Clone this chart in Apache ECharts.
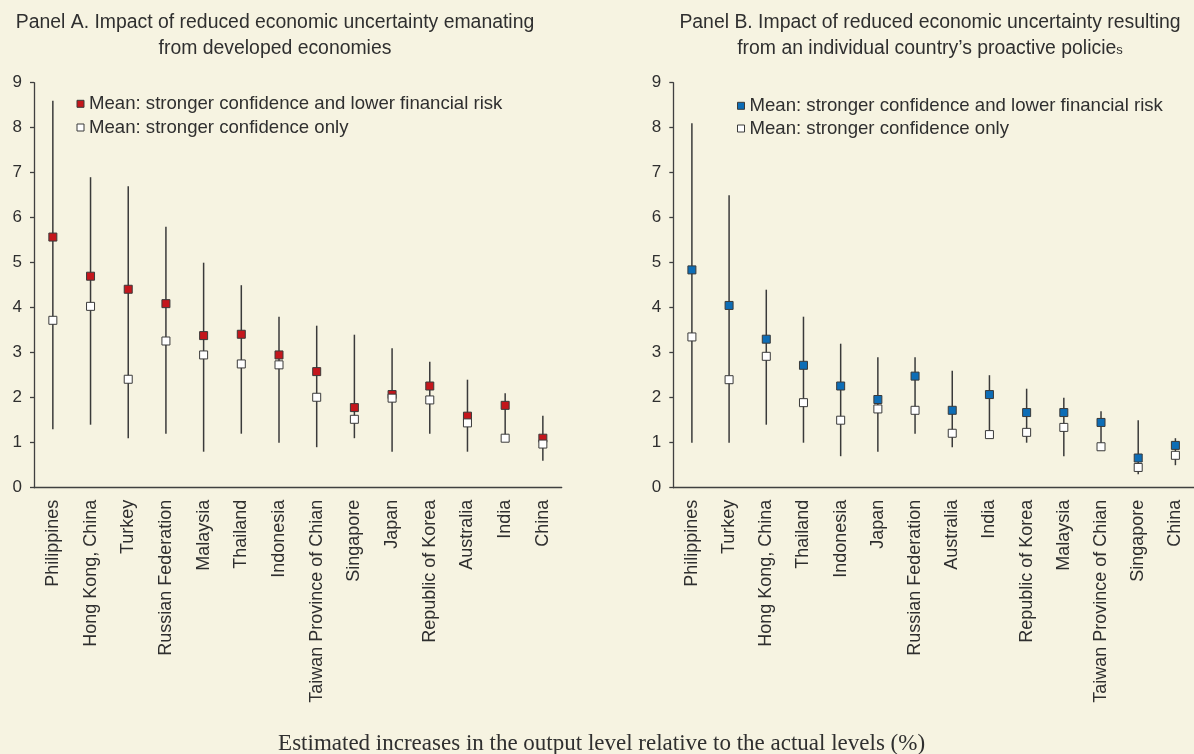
<!DOCTYPE html>
<html>
<head>
<meta charset="utf-8">
<script src="https://cdn.jsdelivr.net/npm/echarts@6/dist/echarts.min.js"></script>
<style>
html,body{margin:0;padding:0;background:#F6F3E1;overflow:hidden;}
#chart{width:1194px;height:754px;}
</style>
</head>
<body>
<div id="chart"></div>
<script>
// Panel A data
const catsA = ['Philippines','Hong Kong, China','Turkey','Russian Federation','Malaysia','Thailand','Indonesia','Taiwan Province of Chian','Singapore','Japan','Republic of Korea','Australia','India','China'];
const meanBothA = [5.57,4.70,4.41,4.09,3.38,3.41,2.95,2.58,1.78,2.07,2.26,1.59,1.83,1.10];
const meanConfA = [3.72,4.03,2.41,3.26,2.95,2.75,2.73,2.01,1.52,1.99,1.95,1.44,1.10,0.97];
const highA = [8.6,6.9,6.7,5.8,5.0,4.5,3.8,3.6,3.4,3.1,2.8,2.4,2.1,1.6];
const lowA  = [1.3,1.4,1.1,1.2,0.8,1.2,1.0,0.9,1.1,0.8,1.2,0.8,1.1,0.6];

// Panel B data
const catsB = ['Philippines','Turkey','Hong Kong, China','Thailand','Indonesia','Japan','Russian Federation','Australia','India','Republic of Korea','Malaysia','Taiwan Province of Chian','Singapore','China'];
const meanBothB = [4.84,4.05,3.30,2.72,2.26,1.96,2.48,1.72,2.07,1.67,1.67,1.45,0.66,0.94];
const meanConfB = [3.35,2.40,2.92,1.89,1.50,1.75,1.72,1.21,1.18,1.23,1.34,0.91,0.45,0.72];
const highB = [8.1,6.5,4.4,3.8,3.2,2.9,2.9,2.6,2.5,2.2,2.0,1.7,1.5,1.1];
const lowB  = [1.0,1.0,1.4,1.0,0.7,0.8,1.2,0.9,1.18,1.0,0.7,0.85,0.3,0.5];

const yTicks = [0,1,2,3,4,5,6,7,8,9];

const nameBoth = 'Mean: stronger confidence and lower financial risk';
const nameConf = 'Mean: stronger confidence only';

const FONT = 'Liberation Sans, Arial, sans-serif';
const TXT = '#2f2f2f';
const AXIS = '#404040';

function xAxis(gi, cats){
  return {
    type:'category', gridIndex:gi, data:cats,
    axisLine:{lineStyle:{color:AXIS,width:1.3}},
    axisTick:{length:4,lineStyle:{color:AXIS,width:1.3}},
    axisLabel:{rotate:90,margin:12,fontSize:18,fontFamily:FONT,color:TXT,interval:0}
  };
}
function yAxis(gi){
  return {
    type:'value', gridIndex:gi, min:yTicks[0], max:yTicks[yTicks.length-1], interval:1,
    splitLine:{show:false},
    axisLine:{show:true,lineStyle:{color:AXIS,width:1.3}},
    axisTick:{show:true,length:4,lineStyle:{color:AXIS,width:1.3}},
    axisLabel:{margin:12,fontSize:17,fontFamily:FONT,color:TXT}
  };
}
function errSeries(gi, high, low){
  return {
    type:'custom', xAxisIndex:gi, yAxisIndex:gi, silent:true,
    data: high.map((h,i)=>[i,h,low[i]]),
    encode:{x:0,y:[1,2]},
    renderItem:function(params, api){
      const x = api.value(0);
      const p1 = api.coord([x, api.value(1)]);
      const p2 = api.coord([x, api.value(2)]);
      return {type:'line', shape:{x1:p1[0],y1:p1[1],x2:p2[0],y2:p2[1]}, style:{stroke:'#3a3a3a',lineWidth:1.5}};
    },
    z:1
  };
}
function markSeries(gi, name, data, color){
  return {
    type:'scatter', name:name, xAxisIndex:gi, yAxisIndex:gi, data:data,
    symbol:'rect', symbolSize:8,
    itemStyle:{color:color,borderColor:'#3a3a3a',borderWidth:1,opacity:1},
    z:3
  };
}
const legendText = {fontSize:18.6,fontFamily:FONT,color:TXT,lineHeight:18};

const chart = echarts.init(document.getElementById('chart'));
chart.setOption({
  backgroundColor:'#F6F3E1',
  animation:false,
  title:[
    {
      text:'Panel A. Impact of reduced economic uncertainty emanating\nfrom developed economies',
      left:275, top:9.9, textAlign:'center', padding:0,
      textStyle:{fontSize:19.4,fontWeight:'normal',fontFamily:FONT,color:TXT,lineHeight:25.6}
    },
    {
      text:'Panel B. Impact of reduced economic uncertainty resulting\nfrom an individual country’s proactive policie{s|s}',
      left:930, top:9.9, textAlign:'center', padding:0,
      textStyle:{fontSize:19.4,fontWeight:'normal',fontFamily:FONT,color:TXT,lineHeight:25.6,
        rich:{s:{fontSize:13,fontFamily:FONT,color:TXT,lineHeight:13,padding:[4,0,0,0]}}}
    }
  ],
  legend:[
    {
      data:[nameBoth,nameConf], orient:'vertical', left:76.5, top:94.3, padding:0, itemGap:4.7,
      icon:'rect', itemWidth:7, itemHeight:7,
      itemStyle:{borderColor:'#3a3a3a',borderWidth:1},
      textStyle:legendText,
      selectedMode:false
    },
    {
      data:[nameBoth+' ',nameConf+' '], orient:'vertical', left:737, top:96.3, padding:0, itemGap:3.7,
      icon:'rect', itemWidth:7, itemHeight:7,
      itemStyle:{borderColor:'#3a3a3a',borderWidth:1},
      textStyle:legendText,
      selectedMode:false
    }
  ],
  grid:[
    {left:34, top:82.7, width:527.7, height:405},
    {left:673.3, top:82.7, width:529.7, height:405}
  ],
  xAxis:[xAxis(0,catsA), xAxis(1,catsB)],
  yAxis:[yAxis(0), yAxis(1)],
  series:[
    errSeries(0, highA, lowA),
    markSeries(0, nameBoth, meanBothA, '#C4161C'),
    markSeries(0, nameConf, meanConfA, '#FFFFFF'),
    errSeries(1, highB, lowB),
    markSeries(1, nameBoth+' ', meanBothB, '#0D6DB6'),
    markSeries(1, nameConf+' ', meanConfB, '#FFFFFF')
  ],
  graphic:[
    {
      type:'text', x:601.6, y:744,
      style:{text:'Estimated increases in the output level relative to the actual levels (%)',
        font:'23px "Liberation Serif", "Times New Roman", serif', fill:TXT,
        textAlign:'center', textVerticalAlign:'middle'}
    }
  ]
});
</script>
</body>
</html>
